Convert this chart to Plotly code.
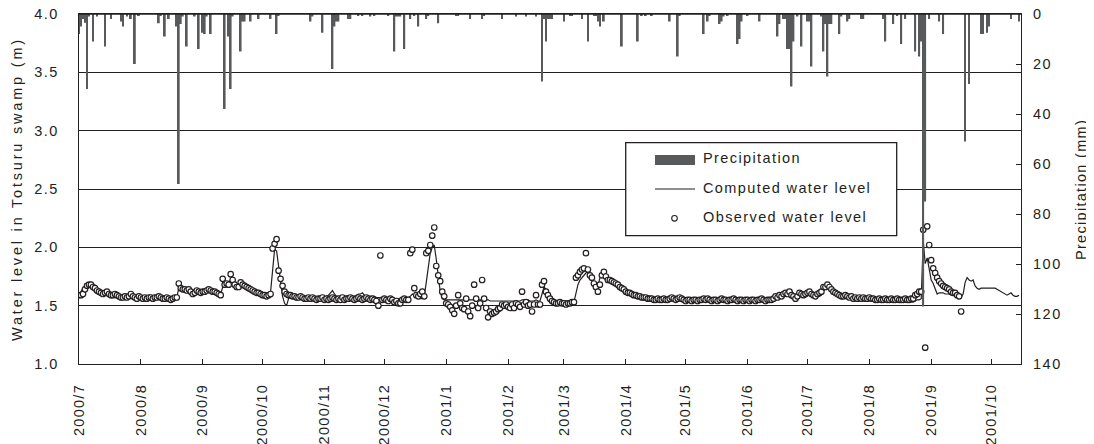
import plotly.graph_objects as go
import pandas as pd

# ---------------- data ----------------
start_date = "2000-07-01"   # first day of the daily series

# Observed water level (m), one value per day from 2000-07-01
observed_level = [
    1.59, 1.59, 1.60, 1.64, 1.67, 1.68, 1.68, 1.66, 1.65, 1.63,
    1.62, 1.61, 1.60, 1.61, 1.62, 1.60, 1.59, 1.59, 1.60, 1.59,
    1.58, 1.57, 1.57, 1.58, 1.57, 1.58, 1.60, 1.58, 1.57, 1.56,
    1.58, 1.57, 1.56, 1.57, 1.56, 1.57, 1.57, 1.56, 1.57, 1.57,
    1.58, 1.57, 1.56, 1.56, 1.57, 1.56, 1.55, 1.56, 1.57, 1.57,
    1.69, 1.65, 1.64, 1.64, 1.63, 1.64, 1.62, 1.60, 1.61, 1.63,
    1.62, 1.61, 1.62, 1.62, 1.63, 1.64, 1.63, 1.62, 1.62, 1.61,
    1.60, 1.59, 1.73, 1.68, 1.69, 1.68, 1.77, 1.72, 1.68, 1.66,
    1.66, 1.70, 1.68, 1.67, 1.66, 1.65, 1.64, 1.63, 1.62, 1.61,
    1.61, 1.60, 1.59, 1.59, 1.58, 1.59, 1.60, 1.99, 2.03, 2.07,
    1.80, 1.73, 1.67, 1.62, 1.60, 1.59, 1.59, 1.58, 1.58, 1.57,
    1.57, 1.58, 1.57, 1.56, 1.56, 1.57, 1.56, 1.57, 1.56, 1.55,
    1.56, 1.56, 1.57, 1.55, 1.56, 1.55, 1.56, 1.57, 1.56, 1.55,
    1.56, 1.55, 1.57, 1.55, 1.56, 1.56, 1.57, 1.56, 1.55, 1.56,
    1.57, 1.56, 1.55, 1.56, 1.57, 1.56, 1.55, 1.56, 1.55, 1.54,
    1.50, 1.93, 1.55, 1.56, 1.55, 1.54, 1.56, 1.55, 1.53, 1.54,
    1.52, 1.52, 1.55, 1.56, 1.55, 1.55, 1.95, 1.98, 1.65, 1.59,
    1.58, 1.60, 1.62, 1.58, 1.95, 1.97, 2.02, 2.10, 2.17, 1.84,
    1.76, 1.71, 1.62, 1.58, 1.52, 1.51, 1.49, 1.46, 1.43, 1.50,
    1.59, 1.52, 1.48, 1.47, 1.56, 1.45, 1.41, 1.50, 1.68, 1.56,
    1.48, 1.52, 1.72, 1.56, 1.48, 1.40, 1.45, 1.43, 1.44, 1.45,
    1.47, 1.48, 1.51, 1.50, 1.51, 1.49, 1.48, 1.51, 1.48, 1.52,
    1.51, 1.49, 1.62, 1.51, 1.53, 1.50, 1.51, 1.45, 1.51, 1.59,
    1.51, 1.51, 1.68, 1.71, 1.62, 1.59, 1.56, 1.54, 1.53, 1.52,
    1.52, 1.53, 1.52, 1.52, 1.51, 1.52, 1.52, 1.53, 1.53, 1.74,
    1.76, 1.79, 1.81, 1.82, 1.95, 1.81, 1.76, 1.74, 1.69, 1.66,
    1.62, 1.68, 1.76, 1.79, 1.75, 1.72, 1.72, 1.71, 1.70, 1.69,
    1.68, 1.66, 1.65, 1.64, 1.62, 1.61, 1.61, 1.60, 1.59, 1.59,
    1.58, 1.58, 1.57, 1.57, 1.57, 1.56, 1.56, 1.56, 1.55, 1.55,
    1.56, 1.55, 1.55, 1.56, 1.55, 1.55, 1.56, 1.57, 1.56, 1.55,
    1.56, 1.57, 1.56, 1.55, 1.54, 1.55, 1.55, 1.54, 1.55, 1.55,
    1.54, 1.55, 1.55, 1.56, 1.55, 1.56, 1.55, 1.54, 1.55, 1.55,
    1.54, 1.55, 1.56, 1.55, 1.55, 1.54, 1.55, 1.55, 1.56, 1.55,
    1.54, 1.55, 1.55, 1.54, 1.55, 1.55, 1.54, 1.55, 1.55, 1.54,
    1.55, 1.55, 1.56, 1.55, 1.54, 1.55, 1.55, 1.55, 1.56, 1.58,
    1.57, 1.59, 1.58, 1.60, 1.61, 1.60, 1.62, 1.59, 1.58, 1.56,
    1.58, 1.61, 1.60, 1.59, 1.60, 1.61, 1.62, 1.60, 1.59, 1.58,
    1.60, 1.61, 1.62, 1.66, 1.66, 1.68, 1.66, 1.64, 1.62, 1.61,
    1.60, 1.59, 1.58, 1.58, 1.59, 1.58, 1.57, 1.58, 1.56, 1.57,
    1.56, 1.57, 1.56, 1.57, 1.56, 1.56, 1.57, 1.56, 1.56, 1.55,
    1.55, 1.56, 1.55, 1.55, 1.56, 1.55, 1.55, 1.56, 1.55, 1.55,
    1.56, 1.55, 1.55, 1.55, 1.56, 1.55, 1.55, 1.56, 1.56, 1.59,
    1.60, 1.62, 1.62, 2.15, 1.14, 2.18, 2.02, 1.89, 1.82, 1.78,
    1.74, 1.71, 1.69, 1.67, 1.66, 1.65, 1.64, 1.62, 1.61, 1.61,
    1.59, 1.58, 1.45,
]

# Computed water level (m), one value per day from 2000-07-01
computed_level = [
    1.60, 1.62, 1.65, 1.67, 1.68, 1.68, 1.68, 1.66, 1.64, 1.63,
    1.62, 1.61, 1.61, 1.62, 1.62, 1.61, 1.60, 1.60, 1.60, 1.59,
    1.59, 1.58, 1.58, 1.58, 1.58, 1.59, 1.59, 1.58, 1.58, 1.58,
    1.58, 1.57, 1.57, 1.57, 1.57, 1.57, 1.57, 1.57, 1.57, 1.57,
    1.58, 1.57, 1.57, 1.57, 1.57, 1.57, 1.57, 1.57, 1.57, 1.57,
    1.65, 1.65, 1.65, 1.65, 1.64, 1.64, 1.62, 1.61, 1.61, 1.62,
    1.63, 1.62, 1.62, 1.63, 1.63, 1.64, 1.63, 1.63, 1.62, 1.61,
    1.61, 1.60, 1.66, 1.68, 1.70, 1.70, 1.72, 1.71, 1.69, 1.68,
    1.67, 1.68, 1.67, 1.66, 1.65, 1.64, 1.63, 1.62, 1.62, 1.61,
    1.61, 1.60, 1.60, 1.59, 1.59, 1.60, 1.62, 1.80, 1.98, 1.97,
    1.85, 1.70, 1.58, 1.52, 1.50, 1.56, 1.58, 1.58, 1.58, 1.58,
    1.58, 1.58, 1.58, 1.57, 1.57, 1.57, 1.57, 1.57, 1.57, 1.57,
    1.57, 1.57, 1.57, 1.57, 1.58, 1.59, 1.61, 1.63, 1.60, 1.58,
    1.58, 1.58, 1.58, 1.58, 1.58, 1.58, 1.58, 1.58, 1.58, 1.59,
    1.60, 1.60, 1.61, 1.59, 1.58, 1.58, 1.58, 1.58, 1.58, 1.57,
    1.57, 1.57, 1.57, 1.57, 1.57, 1.56, 1.56, 1.56, 1.56, 1.56,
    1.56, 1.56, 1.56, 1.56, 1.56, 1.57, 1.58, 1.60, 1.59, 1.58,
    1.57, 1.56, 1.56, 1.58, 1.70, 1.85, 1.95, 2.00, 2.02, 1.90,
    1.75, 1.62, 1.56, 1.55, 1.55, 1.55, 1.55, 1.55, 1.55, 1.55,
    1.55, 1.55, 1.55, 1.55, 1.55, 1.55, 1.55, 1.55, 1.55, 1.55,
    1.55, 1.55, 1.55, 1.55, 1.55, 1.55, 1.54, 1.54, 1.54, 1.54,
    1.54, 1.54, 1.54, 1.54, 1.54, 1.54, 1.54, 1.54, 1.54, 1.54,
    1.54, 1.54, 1.55, 1.55, 1.55, 1.55, 1.54, 1.54, 1.54, 1.55,
    1.54, 1.54, 1.60, 1.66, 1.64, 1.60, 1.57, 1.55, 1.54, 1.54,
    1.54, 1.54, 1.54, 1.54, 1.54, 1.54, 1.54, 1.54, 1.53, 1.60,
    1.68, 1.72, 1.74, 1.76, 1.78, 1.79, 1.77, 1.73, 1.69, 1.66,
    1.66, 1.74, 1.76, 1.77, 1.75, 1.73, 1.72, 1.71, 1.70, 1.69,
    1.67, 1.66, 1.65, 1.64, 1.63, 1.62, 1.61, 1.61, 1.60, 1.59,
    1.59, 1.58, 1.58, 1.57, 1.57, 1.56, 1.56, 1.56, 1.55, 1.55,
    1.55, 1.55, 1.55, 1.55, 1.55, 1.55, 1.55, 1.56, 1.56, 1.55,
    1.55, 1.56, 1.56, 1.55, 1.55, 1.55, 1.55, 1.55, 1.55, 1.55,
    1.55, 1.55, 1.55, 1.56, 1.56, 1.56, 1.55, 1.55, 1.55, 1.55,
    1.55, 1.55, 1.56, 1.56, 1.55, 1.55, 1.55, 1.55, 1.55, 1.55,
    1.56, 1.56, 1.56, 1.55, 1.55, 1.54, 1.54, 1.54, 1.54, 1.54,
    1.54, 1.55, 1.55, 1.54, 1.54, 1.54, 1.54, 1.54, 1.55, 1.56,
    1.57, 1.58, 1.57, 1.58, 1.58, 1.60, 1.61, 1.63, 1.60, 1.58,
    1.57, 1.58, 1.60, 1.59, 1.58, 1.59, 1.60, 1.62, 1.60, 1.58,
    1.58, 1.58, 1.59, 1.63, 1.64, 1.65, 1.65, 1.64, 1.62, 1.60,
    1.59, 1.59, 1.58, 1.58, 1.58, 1.57, 1.57, 1.57, 1.57, 1.56,
    1.56, 1.56, 1.56, 1.57, 1.56, 1.56, 1.56, 1.55, 1.55, 1.55,
    1.54, 1.54, 1.54, 1.54, 1.55, 1.54, 1.53, 1.53, 1.53, 1.53,
    1.53, 1.53, 1.54, 1.53, 1.53, 1.53, 1.53, 1.53, 1.53, 1.54,
    1.55, 1.55, 1.56, 2.06, 1.86, 1.91, 1.80, 1.72, 1.69, 1.64,
    1.60, 1.61, 1.61, 1.61, 1.60, 1.60, 1.60, 1.59, 1.59, 1.58,
    1.58, 1.58, 1.57, 1.60, 1.70, 1.74, 1.72, 1.71, 1.72, 1.67,
    1.65, 1.64, 1.65, 1.65, 1.65, 1.65, 1.65, 1.65, 1.65, 1.65,
    1.64, 1.63, 1.62, 1.61, 1.60, 1.59, 1.60, 1.61, 1.59, 1.58,
    1.58, 1.59,
]

# Daily precipitation (mm), days with rain only
precip_dates = [
    "2000-07-01", "2000-07-02", "2000-07-03", "2000-07-04", "2000-07-05", "2000-07-06",
    "2000-07-08", "2000-07-10", "2000-07-14", "2000-07-17", "2000-07-22", "2000-07-23",
    "2000-07-25", "2000-07-27", "2000-07-29", "2000-07-31",
    "2000-08-10", "2000-08-11", "2000-08-13", "2000-08-15", "2000-08-19", "2000-08-20",
    "2000-08-21", "2000-08-22", "2000-08-24", "2000-08-28", "2000-08-30",
    "2000-09-01", "2000-09-02", "2000-09-03", "2000-09-05", "2000-09-12", "2000-09-14",
    "2000-09-15", "2000-09-16", "2000-09-20", "2000-09-21", "2000-09-22", "2000-09-25",
    "2000-09-29",
    "2000-10-05", "2000-10-08", "2000-10-09", "2000-10-25", "2000-10-26", "2000-10-31",
    "2000-11-05", "2000-11-06", "2000-11-07", "2000-11-08", "2000-11-13", "2000-11-14",
    "2000-11-18", "2000-11-20", "2000-11-24", "2000-11-26",
    "2000-12-03", "2000-12-06", "2000-12-07", "2000-12-08", "2000-12-09", "2000-12-11",
    "2000-12-14", "2000-12-16", "2000-12-18", "2000-12-22", "2000-12-23", "2000-12-28",
    "2001-01-06", "2001-01-07", "2001-01-13", "2001-01-19", "2001-01-20", "2001-01-29",
    "2001-02-05", "2001-02-10", "2001-02-15", "2001-02-18", "2001-02-19", "2001-02-20",
    "2001-02-21", "2001-02-22", "2001-02-23",
    "2001-03-01", "2001-03-04", "2001-03-05", "2001-03-10", "2001-03-13", "2001-03-16",
    "2001-03-17", "2001-03-18", "2001-03-19", "2001-03-21", "2001-03-30",
    "2001-04-07", "2001-04-09", "2001-04-11", "2001-04-14", "2001-04-23", "2001-04-27",
    "2001-04-28",
    "2001-05-10", "2001-05-12", "2001-05-13", "2001-05-18", "2001-05-19", "2001-05-20",
    "2001-05-22", "2001-05-27", "2001-05-28", "2001-05-29",
    "2001-06-01", "2001-06-07", "2001-06-16", "2001-06-17", "2001-06-19", "2001-06-20",
    "2001-06-21", "2001-06-22", "2001-06-23", "2001-06-24", "2001-06-26", "2001-06-28",
    "2001-07-01", "2001-07-02", "2001-07-03", "2001-07-08", "2001-07-09", "2001-07-10",
    "2001-07-11", "2001-07-12", "2001-07-13", "2001-07-17", "2001-07-18", "2001-07-21",
    "2001-07-22", "2001-07-28", "2001-07-29",
    "2001-08-08", "2001-08-09", "2001-08-13", "2001-08-15", "2001-08-17", "2001-08-19",
    "2001-08-24", "2001-08-26", "2001-08-27", "2001-08-28", "2001-08-29", "2001-08-31",
    "2001-09-05", "2001-09-07", "2001-09-18", "2001-09-20", "2001-09-26", "2001-09-27",
    "2001-09-29", "2001-09-30",
    "2001-10-11", "2001-10-15",
]
precip_mm = [
    8, 5, 2, 3.5, 30, 1,
    11, 1, 13, 2, 3, 5,
    1, 2, 20, 0.5,
    3.7, 0.5, 9, 2, 5, 68,
    4, 1, 13, 1, 14,
    7.5, 8, 1, 8, 38, 9,
    30, 1, 15, 3, 3, 3,
    2,
    2, 8, 0.5, 3, 1, 7.5,
    22, 5, 3, 3, 2, 2,
    0.5, 0.5, 1, 0.5,
    0.5, 15, 1, 1, 1, 14,
    2, 0.5, 5, 2, 0.5, 3.7,
    0.5, 0.5, 2, 2, 0.5, 2,
    1, 1, 1, 27, 2, 11,
    2, 2, 2,
    3, 0.5, 0.5, 2, 11, 0.5,
    0.5, 3, 5, 3, 13,
    11, 0.5, 0.5, 0.5, 3, 17,
    0.5,
    8, 3, 0.5, 4, 3, 1,
    0.5, 12, 10, 3,
    0.5, 3, 9, 4, 2, 2,
    14, 14, 29, 11, 1, 13,
    3, 3, 21, 1, 15, 4,
    25, 4, 4, 8, 1, 3,
    2, 2, 2,
    2, 11, 4, 0.5, 12, 2,
    15, 17, 11, 117, 75, 2,
    3, 8, 51, 28, 8, 8,
    7.5, 5,
    2, 3,
]

month_ticks = [
    "2000-07-01", "2000-08-01", "2000-09-01", "2000-10-01", "2000-11-01", "2000-12-01",
    "2001-01-01", "2001-02-01", "2001-03-01", "2001-04-01", "2001-05-01", "2001-06-01",
    "2001-07-01", "2001-08-01", "2001-09-01", "2001-10-01",
]
month_labels = [
    "2000/7", "2000/8", "2000/9", "2000/10", "2000/11", "2000/12",
    "2001/1", "2001/2", "2001/3", "2001/4", "2001/5", "2001/6",
    "2001/7", "2001/8", "2001/9", "2001/10",
]
level_ticks = [1.0, 1.5, 2.0, 2.5, 3.0, 3.5, 4.0]
precip_ticks = [0, 20, 40, 60, 80, 100, 120, 140]

x_range = ["2000-07-01", "2001-10-16"]

# ---------------- styling ----------------
INK = "#231f20"
BAR = "#58595b"
FONT = "Liberation Sans, Arial, Helvetica, sans-serif"
FS = 14.5

# the page body keeps its default 8 px margin, so the figure is 8 px smaller
PAGE_OFFSET = 8
FIG_W, FIG_H = 1094 - PAGE_OFFSET, 444 - PAGE_OFFSET
PLOT_L, PLOT_T, PLOT_W, PLOT_H = 79, 14, 942, 350   # plot box in window pixels


def spaced(t, s=1.5):
    return f'<span style="letter-spacing:{s}px">{t}</span>'


obs_x = pd.date_range(start_date, periods=len(observed_level), freq="D")
comp_x = pd.date_range(start_date, periods=len(computed_level), freq="D")

fig = go.Figure()

fig.add_trace(go.Scatter(
    x=comp_x, y=computed_level, mode="lines", name="Computed water level",
    line=dict(color=INK, width=1.2), showlegend=False, yaxis="y",
))
fig.add_trace(go.Scatter(
    x=obs_x, y=observed_level, mode="markers", name="Observed water level",
    marker=dict(symbol="circle", size=5.5, color="white", line=dict(color=INK, width=1.2)),
    showlegend=False, yaxis="y",
))
fig.add_trace(go.Bar(
    x=precip_dates, y=precip_mm, name="Precipitation", yaxis="y2",
    marker=dict(color=BAR, line=dict(width=0)), width=86400000 * 0.9,
    showlegend=False,
))

m_l = PLOT_L - PAGE_OFFSET
m_t = PLOT_T - PAGE_OFFSET
m_r = FIG_W - m_l - PLOT_W
m_b = FIG_H - m_t - PLOT_H

fig.update_layout(
    width=FIG_W, height=FIG_H, autosize=False,
    margin=dict(l=m_l, r=m_r, t=m_t, b=m_b, pad=0, autoexpand=False),
    paper_bgcolor="white", plot_bgcolor="white",
    font=dict(family=FONT, size=FS, color=INK),
    showlegend=False,
    xaxis=dict(
        type="date", range=x_range, automargin=False, ticklabeloverflow="allow",
        tickmode="array", tickvals=month_ticks,
        ticktext=[spaced(t, 1.3) for t in month_labels],
        tickangle=-90, ticks="inside", ticklen=5, tickwidth=1, tickcolor=INK,
        showline=True, linecolor=INK, linewidth=1.3, mirror=True,
        showgrid=False, zeroline=False, ticklabelstandoff=13,
    ),
    yaxis=dict(
        range=[1.0, 4.0], tickmode="array", tickvals=level_ticks, automargin=False,
        ticklabeloverflow="allow",
        ticktext=[spaced(f"{v:.1f}") for v in level_ticks],
        ticks="", showline=True, linecolor=INK, linewidth=1.3,
        showgrid=True, gridcolor=INK, gridwidth=1, zeroline=False,
        ticklabelstandoff=16,
    ),
    yaxis2=dict(
        overlaying="y", side="right", range=[140, 0], automargin=False,
        ticklabeloverflow="allow",
        tickmode="array", tickvals=precip_ticks,
        ticktext=[spaced(str(v)) for v in precip_ticks],
        ticks="inside", ticklen=5, tickwidth=1, tickcolor=INK,
        showline=True, linecolor=INK, linewidth=1.3,
        showgrid=False, zeroline=False, ticklabelstandoff=8,
    ),
)


def px_x(p):
    return (p - PLOT_L) / PLOT_W


def px_y(p):
    return (PLOT_T + PLOT_H - p) / PLOT_H


# top frame line drawn above the hanging bars
fig.add_shape(type="line", xref="paper", yref="paper", layer="above",
              x0=0, x1=1, y0=1, y1=1, line=dict(color=INK, width=1.5))

# axis titles
fig.add_annotation(
    text=spaced("Water level in Totsuru swamp (m)", 2.8), textangle=-90,
    xref="paper", yref="paper", x=px_x(17), y=px_y(189),
    xanchor="center", yanchor="middle", showarrow=False,
    font=dict(family=FONT, size=FS, color=INK),
)
fig.add_annotation(
    text=spaced("Precipitation (mm)", 1.3), textangle=-90,
    xref="paper", yref="paper", x=px_x(1081), y=px_y(190),
    xanchor="center", yanchor="middle", showarrow=False,
    font=dict(family=FONT, size=FS, color=INK),
)

# hand-drawn legend box
fig.add_shape(type="rect", xref="paper", yref="paper", layer="above",
              x0=px_x(625.7), x1=px_x(896.7), y0=px_y(235.7), y1=px_y(142.7),
              line=dict(color=INK, width=1.3), fillcolor="white")
fig.add_shape(type="rect", xref="paper", yref="paper", layer="above",
              x0=px_x(655), x1=px_x(695), y0=px_y(165), y1=px_y(155),
              line=dict(width=0), fillcolor=BAR)
fig.add_shape(type="line", xref="paper", yref="paper", layer="above",
              x0=px_x(655), x1=px_x(695), y0=px_y(189), y1=px_y(189),
              line=dict(color=INK, width=1.2))
fig.add_shape(type="circle", xref="paper", yref="paper", layer="above",
              xsizemode="pixel", ysizemode="pixel",
              xanchor=px_x(674.5), yanchor=px_y(218.3),
              x0=-2.8, x1=2.8, y0=-2.8, y1=2.8,
              line=dict(color=INK, width=1.1), fillcolor="white")

legend_labels = ["Precipitation", "Computed water level", "Observed water level"]
legend_rows = [158, 188, 217]
for lab, row in zip(legend_labels, legend_rows):
    fig.add_annotation(
        text=spaced(lab, 1.4), xref="paper", yref="paper",
        x=px_x(701), y=px_y(row), xanchor="left", yanchor="middle",
        showarrow=False, font=dict(family=FONT, size=FS, color=INK),
    )

fig.write_html("out.html")
